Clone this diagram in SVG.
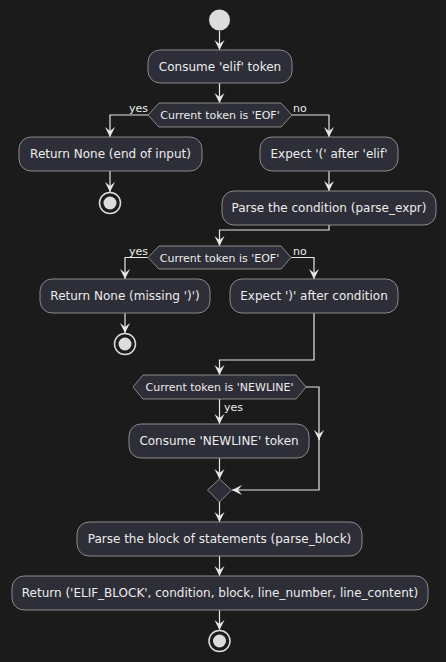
<svg xmlns="http://www.w3.org/2000/svg" width="446" height="662" viewBox="0 0 446 662">
<defs>
<marker id="ah" viewBox="0 0 12 12" refX="10" refY="6" markerWidth="12" markerHeight="12" markerUnits="userSpaceOnUse" orient="auto">
<path d="M0,1 L10,6 L0,11 L4,6 Z" fill="#e6e6e6"/>
</marker>
</defs>
<style>
.bg{fill:#1b1b1b}
.act rect{fill:#2e2e38;stroke:#8a8a8a;stroke-width:1}
.dec polygon{fill:#2e2e38;stroke:#8a8a8a;stroke-width:1}
text{font-family:"DejaVu Sans","Noto Sans",sans-serif;fill:#ececec}
.t{font-size:12px;text-anchor:middle}
.d{font-size:11px;text-anchor:middle}
.l{font-size:11px}
.c path,.c polyline,.c line{fill:none;stroke:#e6e6e6;stroke-width:1.2;marker-end:url(#ah)}
.start{fill:#dcdcdc}
.end circle.o{fill:none;stroke:#dcdcdc;stroke-width:1.5}
.end circle.i{fill:#dcdcdc}
</style>
<rect class="bg" x="0" y="0" width="446" height="662"/>
<g class="c">
<line x1="219.5" y1="31" x2="219.5" y2="50"/>
<line x1="219.5" y1="83" x2="219.5" y2="103"/>
<polyline points="148,115 110,115 110,137"/>
<line x1="110" y1="171" x2="110" y2="192"/>
<polyline points="292,115 329,115 329,137"/>
<line x1="329" y1="171" x2="329" y2="191"/>
<polyline points="329,225 329,230 219.5,230 219.5,246"/>
<polyline points="148,257.5 125,257.5 125,279"/>
<line x1="125" y1="313" x2="125" y2="333"/>
<polyline points="291,257.5 314,257.5 314,279"/>
<polyline points="314,313 314,360 219.5,360 219.5,375"/>
<line x1="219.5" y1="399" x2="219.5" y2="424"/>
<polyline points="306,387 319,387 319,440"/>
<polyline points="319,436 319,490 232,490"/>
<line x1="219.5" y1="458" x2="219.5" y2="479"/>
<line x1="219.5" y1="502" x2="219.5" y2="522"/>
<line x1="219.5" y1="556" x2="219.5" y2="576"/>
<line x1="219.5" y1="610" x2="219.5" y2="630"/>
</g>
<g id="start"><circle class="start" cx="219.5" cy="20" r="10.5"/></g>
<g id="n1" class="act"><rect x="148" y="50" width="144" height="33" rx="12"/><text class="t" x="220" y="71">Consume 'elif' token</text></g>
<g id="d1" class="dec"><polygon points="148,115 159,103 281,103 292,115 281,127 159,127"/><text class="d" x="220" y="119">Current token is 'EOF'</text></g>
<text class="l" x="129" y="112">yes</text>
<text class="l" x="293" y="112">no</text>
<g id="n2" class="act"><rect x="19" y="137" width="183" height="34" rx="12"/><text class="t" x="110.5" y="158">Return None (end of input)</text></g>
<g id="e1" class="end"><circle class="o" cx="110" cy="203" r="10.5"/><circle class="i" cx="110" cy="203" r="6.5"/></g>
<g id="n3" class="act"><rect x="260" y="137" width="138" height="34" rx="12"/><text class="t" x="329" y="158">Expect '(' after 'elif'</text></g>
<g id="n4" class="act"><rect x="222" y="191" width="214" height="34" rx="12"/><text class="t" x="329" y="212">Parse the condition (parse_expr)</text></g>
<g id="d2" class="dec"><polygon points="148,257.5 159,246 281,246 291,257.5 281,269 159,269"/><text class="d" x="219.5" y="261.5">Current token is 'EOF'</text></g>
<text class="l" x="129" y="255">yes</text>
<text class="l" x="293" y="255">no</text>
<g id="n5" class="act"><rect x="40" y="279" width="170" height="34" rx="12"/><text class="t" x="125" y="300">Return None (missing ')')</text></g>
<g id="e2" class="end"><circle class="o" cx="125" cy="344" r="10.5"/><circle class="i" cx="125" cy="344" r="6.5"/></g>
<g id="n6" class="act"><rect x="230" y="279" width="168" height="34" rx="12"/><text class="t" x="314" y="300">Expect ')' after condition</text></g>
<g id="d3" class="dec"><polygon points="133,387 143,375 296,375 306,387 296,399 143,399"/><text class="d" x="219.5" y="391">Current token is 'NEWLINE'</text></g>
<text class="l" x="224" y="411">yes</text>
<g id="n7" class="act"><rect x="129" y="424" width="180" height="34" rx="12"/><text class="t" x="219" y="445">Consume 'NEWLINE' token</text></g>
<g id="m1" class="dec"><polygon points="207.5,490 219.5,479 231.5,490 219.5,502"/></g>
<g id="n8" class="act"><rect x="77" y="522" width="285" height="34" rx="12"/><text class="t" x="219.5" y="543">Parse the block of statements (parse_block)</text></g>
<g id="n9" class="act"><rect x="12" y="576" width="416" height="34" rx="12"/><text class="t" x="220" y="597">Return ('ELIF_BLOCK', condition, block, line_number, line_content)</text></g>
<g id="e3" class="end"><circle class="o" cx="219.5" cy="641" r="10.5"/><circle class="i" cx="219.5" cy="641" r="6.5"/></g>
</svg>
